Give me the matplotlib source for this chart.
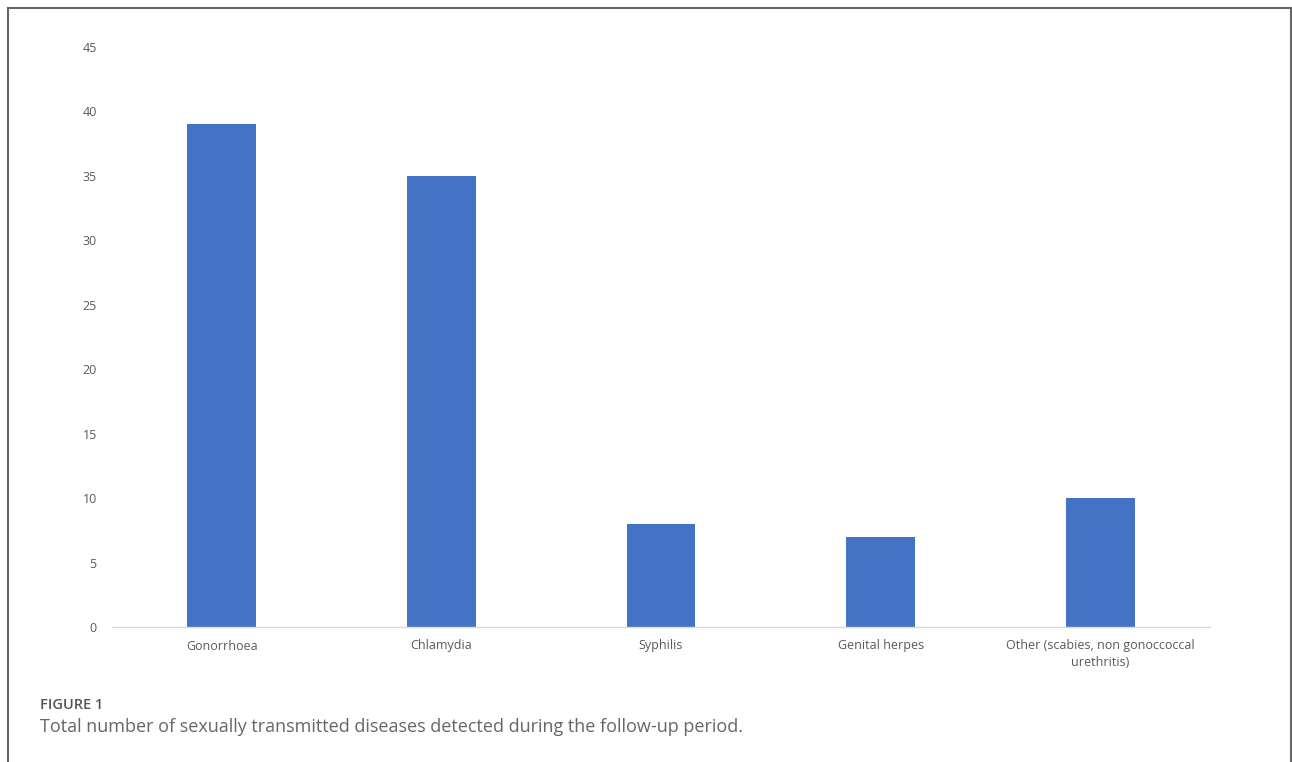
import numpy as np
import matplotlib.pyplot as plt
from matplotlib.lines import Line2D

categories = ['Gonorrhoea', 'Chlamydia', 'Syphilis', 'Genital herpes',
              'Other (scabies, non gonoccoccal\nurethritis)']
counts = [39, 35, 8, 7, 10]
yticks = [0, 5, 10, 15, 20, 25, 30, 35, 40, 45]

W, H = 1292, 762
fig = plt.figure(figsize=(W / 100, H / 100), dpi=100)
plt.rcParams['font.family'] = ['Open Sans', 'DejaVu Sans']

# axes box in pixels: x 112..1210, y 47..627
ax = fig.add_axes([112 / W, 1 - 627 / H, (1210 - 112) / W, (627 - 47) / H])
x = np.arange(len(categories))
ax.bar(x, counts, width=0.314, color='#4472c4')
ax.set_xlim(-0.5, len(categories) - 0.5)
ax.set_ylim(0, 45)
ax.set_yticks(yticks)
ax.set_xticks(x)
ax.set_xticklabels(categories, fontsize=9, color='#595959', linespacing=1.3)
ax.tick_params(axis='y', labelsize=9, labelcolor='#595959', length=0, pad=11)
ax.tick_params(axis='x', length=0, pad=9)
for s in ['top', 'right', 'left']:
    ax.spines[s].set_visible(False)
ax.spines['bottom'].set_color('#d9d9d9')
ax.spines['bottom'].set_linewidth(1)

# caption
fig.text(40 / W, 1 - 705 / H, 'FIGURE 1', fontsize=10.5, color='#555555',
         fontweight='semibold', va='center')
fig.text(40 / W, 1 - 727 / H,
         'Total number of sexually transmitted diseases detected during the follow-up period.',
         fontsize=13, color='#666666', va='center')

# frame (left, top, right)
fc = '#666666'
fig.add_artist(Line2D([7.5 / W, 7.5 / W], [0, 1 - 7.5 / H], color=fc, lw=1.5))
fig.add_artist(Line2D([7.5 / W, 1290.5 / W], [1 - 7.5 / H, 1 - 7.5 / H], color=fc, lw=1.5))
fig.add_artist(Line2D([1290.5 / W, 1290.5 / W], [0, 1 - 7.5 / H], color=fc, lw=1.5))

fig.savefig('out.png', dpi=100)
